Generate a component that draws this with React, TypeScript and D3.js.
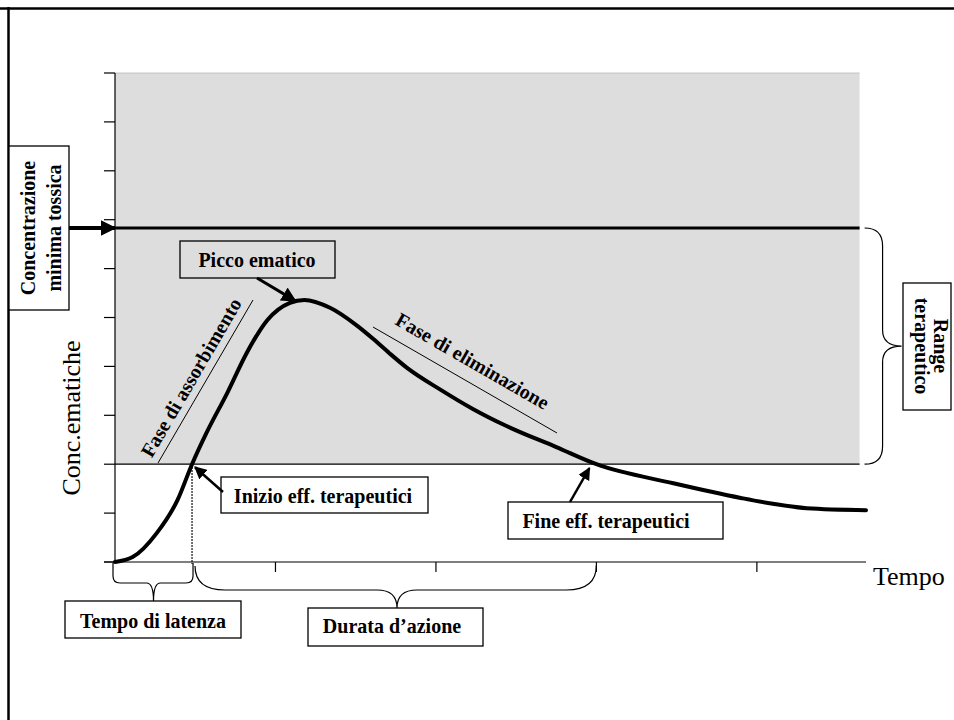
import * as d3 from "d3";
import React from "react";

// concentration curve (time units = x ticks, conc units = y ticks)
const timePoints = [0, 0.11, 0.26, 0.39, 0.48, 0.57, 0.7, 0.82, 0.95, 1.09, 1.18, 1.34, 1.51, 1.61, 1.71, 1.82, 2.03, 2.23, 2.44, 2.75, 3.0, 3.48, 3.9, 4.1, 4.31, 4.68];
const concPoints = [0, 0.1, 0.59, 1.27, 2.0, 2.64, 3.46, 4.27, 4.95, 5.3, 5.36, 5.2, 4.83, 4.56, 4.27, 3.97, 3.52, 3.13, 2.78, 2.35, 2.0, 1.61, 1.31, 1.19, 1.1, 1.06];

const yTicks = [0, 1, 2, 3, 4, 5, 6, 7, 8, 9, 10];
const xTicks = [1, 2, 3, 4];

const toxicConc = 6.83;
const minEffConc = 2.0;
const onsetTime = 0.48;
const offsetTime = 3.0;
const peakTime = 1.18;
const peakConc = 5.36;

const W = 954;
const H = 720;
const FONT = "'Liberation Serif', 'Times New Roman', serif";

const x = d3.scaleLinear().domain([0, 4.68]).range([115, 866]);
const y = d3.scaleLinear().domain([0, 10]).range([562, 73]);
const shadeRight = x(4.64);

const line = d3
  .line<number>()
  .x((_, i) => x(timePoints[i]))
  .y((d) => y(d))
  .curve(d3.curveMonotoneX);

// box with bold label
const Box = ({ x0, y0, x1, y1, fill = "white" }: any) => (
  <rect x={x0} y={y0} width={x1 - x0} height={y1 - y0} fill={fill} stroke="black" strokeWidth={1.3} />
);

const App = () => {
  const onsetX = x(onsetTime);
  const offsetX = x(offsetTime);
  const x0 = x(0);
  const yT = y(toxicConc);
  const yMin = y(minEffConc);
  const y0 = y(0);

  // horizontal curly brace under the axis
  const braceLat = `M${x0 - 2},${y0 + 1} L${x0 - 2},${y0 + 14} Q${x0 - 2},${y0 + 21} ${x0 + 5},${y0 + 21}
    L${(x0 + onsetX) / 2 - 7},${y0 + 21} Q${(x0 + onsetX) / 2},${y0 + 21} ${(x0 + onsetX) / 2},${y0 + 39}
    Q${(x0 + onsetX) / 2},${y0 + 21} ${(x0 + onsetX) / 2 + 7},${y0 + 21}
    L${onsetX - 6},${y0 + 21} Q${onsetX + 1},${y0 + 21} ${onsetX + 1},${y0 + 14} L${onsetX + 1},${y0 + 1}`;
  const midD = 397;
  const braceDur = `M${onsetX + 3},${y0 + 4} Q${onsetX + 3},${y0 + 28} ${onsetX + 33},${y0 + 28}
    L${midD - 20},${y0 + 28} Q${midD},${y0 + 28} ${midD},${y0 + 46}
    Q${midD},${y0 + 28} ${midD + 20},${y0 + 28}
    L${offsetX - 30},${y0 + 28} Q${offsetX},${y0 + 28} ${offsetX},${y0 + 3}`;
  const bx = shadeRight + 5;
  const yMid = (yT + yMin) / 2;
  const braceRange = `M${bx},${yT} Q${bx + 18},${yT} ${bx + 18},${yT + 18}
    L${bx + 18},${yMid - 16} Q${bx + 18},${yMid} ${bx + 37},${yMid}
    Q${bx + 18},${yMid} ${bx + 18},${yMid + 16}
    L${bx + 18},${yMin - 18} Q${bx + 18},${yMin} ${bx},${yMin}`;

  const labelStyle = { fontFamily: FONT, fontWeight: "bold", fontSize: 20 } as const;

  return (
    <svg width={W} height={H} style={{ position: "absolute", left: 0, top: 0, background: "white" }}>
      <defs>
        <marker id="ah" viewBox="0 0 10 10" refX="9" refY="5" markerWidth="4" markerHeight="4" orient="auto">
          <path d="M0,0 L10,5 L0,10 z" fill="black" />
        </marker>
        <marker id="ah2" viewBox="0 0 10 10" refX="9" refY="5" markerWidth="5" markerHeight="5" orient="auto">
          <path d="M0,0 L10,5 L0,10 z" fill="black" />
        </marker>
      </defs>
      {/* frame */}
      <line x1={0} x2={W} y1={8.5} y2={8.5} stroke="black" strokeWidth={2.5} />
      <line x1={8.5} x2={8.5} y1={7} y2={H} stroke="black" strokeWidth={2.5} />

      {/* shaded area */}
      <rect x={x0} y={y(10)} width={shadeRight - x0} height={yMin - y(10)} fill="#dddddd" />
      <line x1={x0} x2={shadeRight} y1={y(10)} y2={y(10)} stroke="#bbbbbb" strokeWidth={0.8} />
      <line x1={x0} x2={shadeRight} y1={yMin} y2={yMin} stroke="black" strokeWidth={1.2} />
      <line x1={x0} x2={shadeRight} y1={yT} y2={yT} stroke="black" strokeWidth={3} />

      {/* axes */}
      <line x1={x0} x2={x0} y1={y(10)} y2={y0} stroke="black" strokeWidth={1.2} />
      {yTicks.map((t) => (
        <line key={t} x1={x0 - 11} x2={x0} y1={y(t)} y2={y(t)} stroke="black" strokeWidth={1.2} />
      ))}
      <line x1={x0 - 11} x2={x(4.68)} y1={y0} y2={y0} stroke="black" strokeWidth={1.2} />
      {xTicks.map((t) => (
        <line key={t} x1={x(t)} x2={x(t)} y1={y0} y2={y0 + 10} stroke="black" strokeWidth={1.2} />
      ))}

      {/* onset dotted */}
      <line x1={onsetX} x2={onsetX} y1={yMin} y2={y0 + 2} stroke="black" strokeWidth={1.5} strokeDasharray="1.5,1.5" />

      {/* curve */}
      <path d={line(concPoints) || ""} fill="none" stroke="black" strokeWidth={4} strokeLinecap="round" strokeLinejoin="round" />

      {/* phase lines */}
      <line x1={158} y1={463} x2={253} y2={300} stroke="black" strokeWidth={1} />
      <line x1={373} y1={327} x2={557} y2={433} stroke="black" strokeWidth={1} />
      <text transform="translate(197,381) rotate(-59.8)" textAnchor="middle" {...labelStyle}>Fase di assorbimento</text>
      <text transform="translate(469,367) rotate(29.9)" textAnchor="middle" {...labelStyle}>Fase di eliminazione</text>

      {/* axis titles */}
      <text transform="translate(80,418) rotate(-90)" textAnchor="middle" fontFamily={FONT} fontSize={26}>Conc.ematiche</text>
      <text x={873} y={585} fontFamily={FONT} fontSize={26}>Tempo</text>

      {/* toxic concentration */}
      <Box x0={9} y0={146} x1={69} y1={310} />
      <text transform="translate(0,228) rotate(-90)" textAnchor="middle" {...labelStyle}>
        <tspan x={0} y={35}>Concentrazione</tspan>
        <tspan x={0} y={61}>minima tossica</tspan>
      </text>
      <line x1={69} x2={x0} y1={yT} y2={yT} stroke="black" strokeWidth={4} markerEnd="url(#ah)" />

      {/* range */}
      <path d={braceRange} fill="none" stroke="black" strokeWidth={1.2} />
      <Box x0={903} y0={283} x1={951} y1={410} />
      <text transform="translate(0,346) rotate(90)" textAnchor="middle" {...labelStyle}>
        <tspan x={0} y={-934}>Range</tspan>
        <tspan x={0} y={-915}>terapeutico</tspan>
      </text>

      {/* peak */}
      <Box x0={180} y0={241} x1={335} y1={278} fill="#dddddd" />
      <text x={257} y={267} textAnchor="middle" {...labelStyle}>Picco ematico</text>
      <line x1={257} y1={278} x2={x(peakTime) - 9} y2={y(peakConc) + 1} stroke="black" strokeWidth={3} markerEnd="url(#ah2)" />

      {/* onset / offset */}
      <Box x0={221} y0={477} x1={428} y1={513} />
      <text x={323} y={503} textAnchor="middle" {...labelStyle}>Inizio eff. terapeutici</text>
      <line x1={223} y1={492} x2={onsetX + 3} y2={yMin + 3} stroke="black" strokeWidth={2.5} markerEnd="url(#ah2)" />
      <Box x0={508} y0={502} x1={723} y1={539} />
      <text x={606} y={528} textAnchor="middle" {...labelStyle}>Fine eff. terapeutici</text>
      <line x1={570} y1={502} x2={offsetX - 7} y2={yMin + 4} stroke="black" strokeWidth={2.5} markerEnd="url(#ah2)" />

      {/* braces */}
      <path d={braceLat} fill="none" stroke="black" strokeWidth={1.2} />
      <path d={braceDur} fill="none" stroke="black" strokeWidth={1.2} />
      <Box x0={65} y0={601} x1={241} y1={638} />
      <text x={153} y={628} textAnchor="middle" {...labelStyle}>Tempo di latenza</text>
      <Box x0={308} y0={608} x1={483} y1={646} />
      <text x={392} y={633} textAnchor="middle" {...labelStyle}>Durata d’azione</text>
    </svg>
  );
};

export default App;
